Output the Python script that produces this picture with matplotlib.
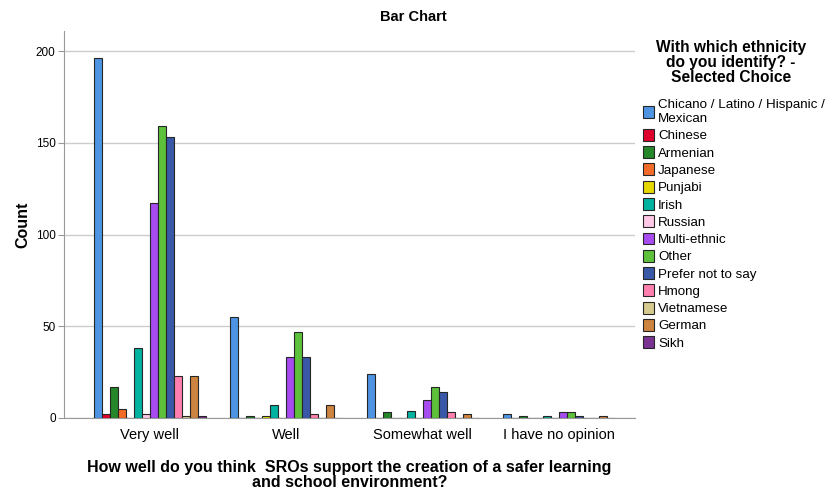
import numpy as np
import matplotlib
matplotlib.use("Agg")
import matplotlib.pyplot as plt

plt.rcParams['font.family'] = ['Liberation Sans', 'DejaVu Sans']

# data
categories = ["Very well", "Well", "Somewhat well", "I have no opinion"]
groups = ["Chicano / Latino / Hispanic /\nMexican", "Chinese", "Armenian", "Japanese",
          "Punjabi", "Irish", "Russian", "Multi-ethnic", "Other", "Prefer not to say",
          "Hmong", "Vietnamese", "German", "Sikh"]
colors = ["#4F94E3", "#E0002E", "#25862A", "#F26B28", "#E5D800", "#00B3A0", "#FFC8E6",
          "#A64CF0", "#5DC13B", "#3A58A8", "#FF7FAE", "#D5CB8E", "#CD8440", "#7A3391"]
counts = {
    "Very well":         [196, 2, 17, 5, 0, 38, 2, 117, 159, 153, 23, 1, 23, 1],
    "Well":              [55, 0, 1, 0, 1, 7, 0, 33, 47, 33, 2, 0, 7, 0],
    "Somewhat well":     [24, 0, 3, 0, 0, 4, 0, 10, 17, 14, 3, 0, 2, 0],
    "I have no opinion": [2, 0, 1, 0, 0, 1, 0, 3, 3, 1, 0, 0, 1, 0],
}

fig = plt.figure(figsize=(8.29, 4.9), dpi=100)
ax = fig.add_axes([0.0772, 0.147, 0.689, 0.79])

x = np.arange(len(categories))
w = 0.0587
n = len(groups)
for i, g in enumerate(groups):
    vals = [counts[c][i] for c in categories]
    ax.bar(x + (i - (n - 1) / 2) * w, vals, width=w, color=colors[i],
           edgecolor="#262626", linewidth=0.8, label=g, zorder=3)

ax.set_xlim(-0.63, 3.56)
ax.set_ylim(0, 211)
ax.set_yticks([0, 50, 100, 150, 200])
ax.yaxis.grid(True, color="#cccccc", linewidth=1.0, zorder=0)
ax.set_xticks(x)
ax.set_xticklabels(categories, fontsize=10.5)
ax.tick_params(axis="x", length=0, pad=7)
ax.tick_params(axis="y", length=4, color="#999999", labelsize=8.5, pad=2)
for s in ["top", "right"]:
    ax.spines[s].set_visible(False)
for s in ["left", "bottom"]:
    ax.spines[s].set_color("#999999")

ax.set_ylabel("Count", fontsize=11.5, fontweight="bold", labelpad=4)
ax.set_xlabel("How well do you think  SROs support the creation of a safer learning\nand school environment?",
              fontsize=11.5, fontweight="bold", linespacing=1.0, labelpad=13)
fig.text(0.498, 0.965, "Bar Chart", ha="center", va="center", fontsize=10.5, fontweight="bold")

fig.text(0.882, 0.873, "With which ethnicity\ndo you identify? -\nSelected Choice", ha="center",
         va="center", fontsize=11.2, fontweight="bold", linespacing=1.0)
leg = ax.legend(loc="upper left", bbox_to_anchor=(0.7697, 0.808), bbox_transform=fig.transFigure,
                frameon=False, fontsize=9.6, handlelength=0.78, handleheight=1.0,
                handletextpad=0.32, labelspacing=0.28, borderaxespad=0)

fig.savefig("out.png", dpi=100)
